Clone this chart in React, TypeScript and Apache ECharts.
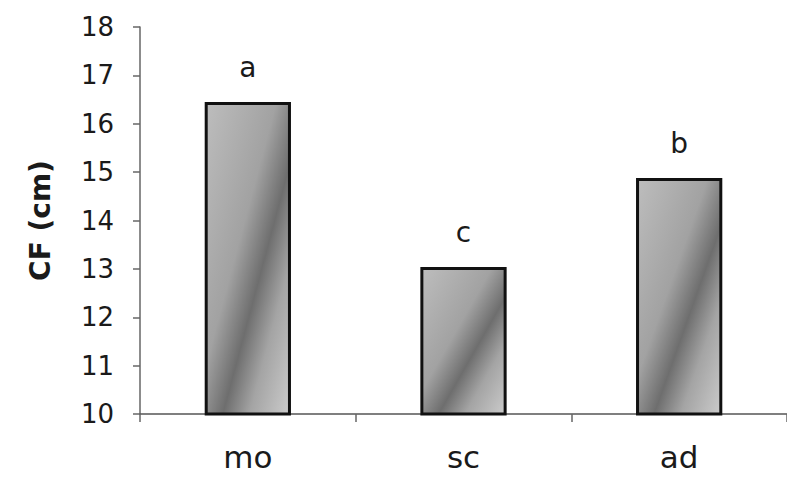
import React, { useEffect, useRef } from "react";
import * as echarts from "echarts";

const categories = ["mo", "sc", "ad"];
const values = [16.45, 13.04, 14.88];
const letters = ["a", "c", "b"];
const yTicks = { min: 10, max: 18, interval: 1 };

const FONT = "DejaVu Sans";

export default function App() {
  const ref = useRef<HTMLDivElement>(null);
  useEffect(() => {
    if (!ref.current) return;
    const chart = echarts.init(ref.current, undefined, { renderer: "svg" });
    const barFill = new echarts.graphic.LinearGradient(0, 0, 1, 1, [
      { offset: 0, color: "#bdbdbd" },
      { offset: 0.42, color: "#a2a2a2" },
      { offset: 0.6, color: "#6e6e6e" },
      { offset: 0.76, color: "#a4a4a4" },
      { offset: 1, color: "#cbcbcb" },
    ]);
    chart.setOption({
      animation: false,
      backgroundColor: "#ffffff",
      grid: { left: 140, right: -7, top: 27, bottom: 63 },
      xAxis: {
        type: "category",
        data: categories,
        axisLine: { lineStyle: { color: "#555", width: 1.5 } },
        axisTick: { show: true, length: 8, lineStyle: { color: "#666", width: 1.5 } },
        axisLabel: {
          margin: 27,
          fontFamily: FONT,
          fontSize: 31,
          color: "#1a1a1a",
        },
      },
      yAxis: {
        type: "value",
        min: yTicks.min,
        max: yTicks.max,
        interval: yTicks.interval,
        name: "CF (cm)",
        nameLocation: "middle",
        nameGap: 86,
        nameRotate: 90,
        nameTextStyle: {
          fontFamily: FONT,
          fontSize: 28,
          fontWeight: "bold",
          color: "#1a1a1a",
        },
        splitLine: { show: false },
        axisLine: { show: true, lineStyle: { color: "#666", width: 1.5 } },
        axisTick: { show: true, length: 7, lineStyle: { color: "#666", width: 1.5 } },
        axisLabel: {
          margin: 26,
          fontFamily: FONT,
          fontSize: 26,
          color: "#1a1a1a",
        },
      },
      series: [
        {
          type: "bar",
          data: values,
          barWidth: "40%",
          itemStyle: {
            color: barFill,
            borderColor: "#111",
            borderWidth: 3,
          },
          label: {
            show: true,
            position: "top",
            distance: 20,
            fontFamily: FONT,
            fontSize: 28,
            color: "#1a1a1a",
            formatter: (p: any) => letters[p.dataIndex],
          },
        },
      ],
    });
    return () => chart.dispose();
  }, []);
  return <div ref={ref} style={{ width: 787, height: 477, position: "absolute", left: 0, top: 0 }} />;
}
